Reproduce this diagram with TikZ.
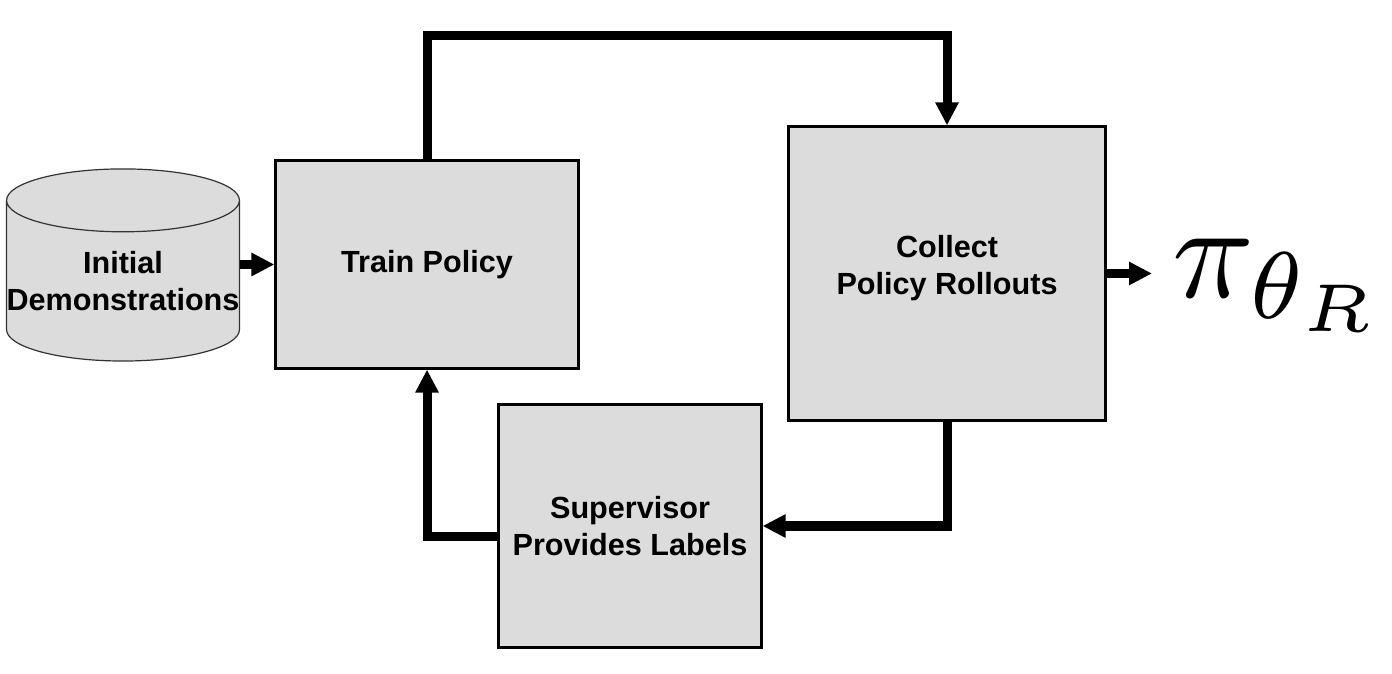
\documentclass[tikz,border=0pt]{standalone}
\usepackage{fontspec}
\setmainfont{Liberation Sans}
\usetikzlibrary{shapes.geometric, arrows.meta, calc}
\definecolor{boxgray}{RGB}{220,220,220}

\begin{document}
\begin{tikzpicture}[x=0.01cm, y=-0.01cm,
	box/.style={draw, line width=0.03cm, fill=boxgray, align=center, inner sep=0pt,
		font=\fontsize{8.7}{10.5}\selectfont\bfseries},
	flow/.style={line width=0.09cm, -{Triangle[length=0.23cm, width=0.22cm]}}]
	\useasboundingbox (0,0) rectangle (1392,674);

	\node[box, cylinder, shape border rotate=90, aspect=0.27, line width=0.012cm, draw=black!80, minimum width=2.32cm, minimum height=1.92cm](demo) at (123,281) {Initial\\Demonstrations};
	\node[box, minimum width=3.02cm, minimum height=2.07cm](train) at (427,264.5) {Train Policy};
	\node[box, text depth=5pt, minimum width=3.16cm, minimum height=2.93cm](collect) at (947,273.5) {Collect\\Policy Rollouts};
	\node[box, minimum width=2.62cm, minimum height=2.42cm](super) at (630,526) {Supervisor\\Provides Labels};
	\node[anchor=base west, inner sep=0pt, scale=3.85, font=\fontsize{10}{12}\selectfont](pi) at (1170,298) {$\pi_{\theta_R}$};

	\coordinate (topbend) at (947,36);

	\draw[flow](demo.east |- train.west) -- (train.west);
	\draw[flow](train.north) |- (topbend) -- (collect.north);
	\draw[flow](collect.south) |- (super.east);
	\draw[flow]([yshift=-0.1cm]super.west) -| (train.south);
	\draw[flow](collect.east) -- ($(collect.east -| pi.west)+(-18,0)$);
\end{tikzpicture}
\end{document}
